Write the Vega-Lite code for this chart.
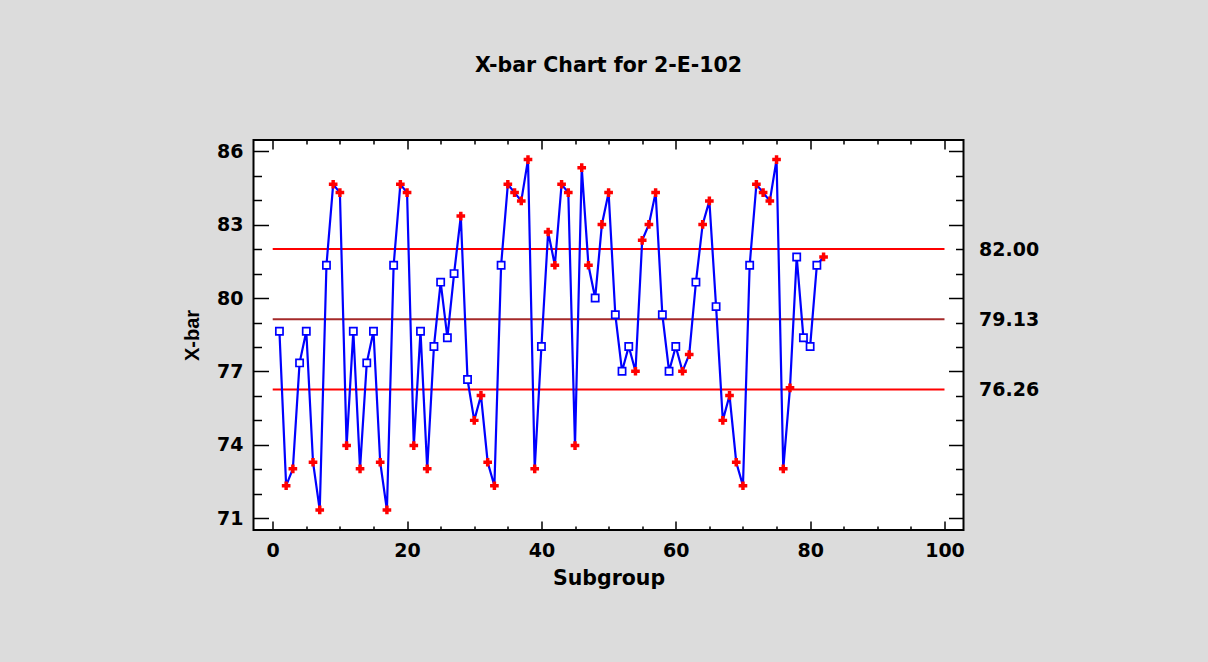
{
  "$schema": "https://vega.github.io/schema/vega-lite/v6.json",
  "width": 710,
  "height": 390,
  "autosize": {"type": "none"},
  "padding": {"left": 253.5, "top": 140, "right": 244.5, "bottom": 132},
  "background": "#dcdcdc",
  "title": {
    "text": "X-bar Chart for 2-E-102",
    "font": "DejaVu Sans",
    "fontSize": 20.5,
    "fontWeight": "bold",
    "color": "#000000",
    "anchor": "middle",
    "baseline": "alphabetic",
    "offset": 47
  },
  "config": {
    "view": {"fill": "white", "stroke": "black", "strokeWidth": 2},
    "axis": {
      "domain": false,
      "grid": false,
      "tickColor": "black",
      "tickWidth": 1.5,
      "labelFont": "DejaVu Sans",
      "labelFontSize": 19,
      "labelFontWeight": "bold",
      "labelColor": "black",
      "labelOverlap": false,
      "labelFlush": false,
      "titleColor": "black",
      "titleFontWeight": "bold"
    }
  },
  "datasets": {
    "pts": [
      {"subgroup": 1, "xbar": 78.64, "flag": "in"},
      {"subgroup": 2, "xbar": 72.33, "flag": "out"},
      {"subgroup": 3, "xbar": 73.02, "flag": "out"},
      {"subgroup": 4, "xbar": 77.35, "flag": "in"},
      {"subgroup": 5, "xbar": 78.64, "flag": "in"},
      {"subgroup": 6, "xbar": 73.29, "flag": "out"},
      {"subgroup": 7, "xbar": 71.34, "flag": "out"},
      {"subgroup": 8, "xbar": 81.34, "flag": "in"},
      {"subgroup": 9, "xbar": 84.65, "flag": "out"},
      {"subgroup": 10, "xbar": 84.31, "flag": "out"},
      {"subgroup": 11, "xbar": 73.97, "flag": "out"},
      {"subgroup": 12, "xbar": 78.64, "flag": "in"},
      {"subgroup": 13, "xbar": 73.02, "flag": "out"},
      {"subgroup": 14, "xbar": 77.35, "flag": "in"},
      {"subgroup": 15, "xbar": 78.64, "flag": "in"},
      {"subgroup": 16, "xbar": 73.29, "flag": "out"},
      {"subgroup": 17, "xbar": 71.34, "flag": "out"},
      {"subgroup": 18, "xbar": 81.34, "flag": "in"},
      {"subgroup": 19, "xbar": 84.65, "flag": "out"},
      {"subgroup": 20, "xbar": 84.31, "flag": "out"},
      {"subgroup": 21, "xbar": 73.97, "flag": "out"},
      {"subgroup": 22, "xbar": 78.64, "flag": "in"},
      {"subgroup": 23, "xbar": 73.02, "flag": "out"},
      {"subgroup": 24, "xbar": 78.02, "flag": "in"},
      {"subgroup": 25, "xbar": 80.65, "flag": "in"},
      {"subgroup": 26, "xbar": 78.38, "flag": "in"},
      {"subgroup": 27, "xbar": 81.0, "flag": "in"},
      {"subgroup": 28, "xbar": 83.35, "flag": "out"},
      {"subgroup": 29, "xbar": 76.67, "flag": "in"},
      {"subgroup": 30, "xbar": 75.0, "flag": "out"},
      {"subgroup": 31, "xbar": 76.02, "flag": "out"},
      {"subgroup": 32, "xbar": 73.29, "flag": "out"},
      {"subgroup": 33, "xbar": 72.33, "flag": "out"},
      {"subgroup": 34, "xbar": 81.34, "flag": "in"},
      {"subgroup": 35, "xbar": 84.65, "flag": "out"},
      {"subgroup": 36, "xbar": 84.31, "flag": "out"},
      {"subgroup": 37, "xbar": 83.97, "flag": "out"},
      {"subgroup": 38, "xbar": 85.66, "flag": "out"},
      {"subgroup": 39, "xbar": 73.02, "flag": "out"},
      {"subgroup": 40, "xbar": 78.02, "flag": "in"},
      {"subgroup": 41, "xbar": 82.7, "flag": "out"},
      {"subgroup": 42, "xbar": 81.34, "flag": "out"},
      {"subgroup": 43, "xbar": 84.65, "flag": "out"},
      {"subgroup": 44, "xbar": 84.31, "flag": "out"},
      {"subgroup": 45, "xbar": 73.97, "flag": "out"},
      {"subgroup": 46, "xbar": 85.33, "flag": "out"},
      {"subgroup": 47, "xbar": 81.34, "flag": "out"},
      {"subgroup": 48, "xbar": 80.0, "flag": "in"},
      {"subgroup": 49, "xbar": 83.01, "flag": "out"},
      {"subgroup": 50, "xbar": 84.31, "flag": "out"},
      {"subgroup": 51, "xbar": 79.32, "flag": "in"},
      {"subgroup": 52, "xbar": 77.01, "flag": "in"},
      {"subgroup": 53, "xbar": 78.02, "flag": "in"},
      {"subgroup": 54, "xbar": 77.01, "flag": "out"},
      {"subgroup": 55, "xbar": 82.36, "flag": "out"},
      {"subgroup": 56, "xbar": 83.01, "flag": "out"},
      {"subgroup": 57, "xbar": 84.31, "flag": "out"},
      {"subgroup": 58, "xbar": 79.32, "flag": "in"},
      {"subgroup": 59, "xbar": 77.01, "flag": "in"},
      {"subgroup": 60, "xbar": 78.02, "flag": "in"},
      {"subgroup": 61, "xbar": 77.01, "flag": "out"},
      {"subgroup": 62, "xbar": 77.69, "flag": "out"},
      {"subgroup": 63, "xbar": 80.65, "flag": "in"},
      {"subgroup": 64, "xbar": 83.01, "flag": "out"},
      {"subgroup": 65, "xbar": 83.97, "flag": "out"},
      {"subgroup": 66, "xbar": 79.65, "flag": "in"},
      {"subgroup": 67, "xbar": 75.0, "flag": "out"},
      {"subgroup": 68, "xbar": 76.02, "flag": "out"},
      {"subgroup": 69, "xbar": 73.29, "flag": "out"},
      {"subgroup": 70, "xbar": 72.33, "flag": "out"},
      {"subgroup": 71, "xbar": 81.34, "flag": "in"},
      {"subgroup": 72, "xbar": 84.65, "flag": "out"},
      {"subgroup": 73, "xbar": 84.31, "flag": "out"},
      {"subgroup": 74, "xbar": 83.97, "flag": "out"},
      {"subgroup": 75, "xbar": 85.66, "flag": "out"},
      {"subgroup": 76, "xbar": 73.02, "flag": "out"},
      {"subgroup": 77, "xbar": 76.33, "flag": "out"},
      {"subgroup": 78, "xbar": 81.68, "flag": "in"},
      {"subgroup": 79, "xbar": 78.38, "flag": "in"},
      {"subgroup": 80, "xbar": 78.02, "flag": "in"},
      {"subgroup": 81, "xbar": 81.34, "flag": "in"},
      {"subgroup": 82, "xbar": 81.68, "flag": "out"}
    ],
    "limits": [
      {"line": "UCL", "value": 82.0},
      {"line": "CL", "value": 79.13},
      {"line": "LCL", "value": 76.26}
    ]
  },
  "resolve": {"axis": {"x": "independent", "y": "independent"}},
  "layer": [
    {
      "data": {"name": "limits"},
      "mark": {"type": "rule", "strokeWidth": 2},
      "encoding": {
        "x": {"datum": 0, "type": "quantitative", "scale": {"domain": [-2.86, 102.83], "nice": false, "zero": false}, "axis": null},
        "x2": {"datum": 100},
        "y": {"field": "value", "type": "quantitative", "scale": {"domain": [70.52, 86.46], "nice": false, "zero": false}, "axis": null},
        "color": {"field": "line", "type": "nominal", "scale": {"domain": ["UCL", "CL", "LCL"], "range": ["#ff0000", "#a52a2a", "#ff0000"]}, "legend": null}
      }
    },
    {
      "data": {"name": "pts"},
      "mark": {"type": "line", "color": "#0000ff", "strokeWidth": 2.2},
      "encoding": {
        "x": {
          "field": "subgroup", "type": "quantitative",
          "scale": {"domain": [-2.86, 102.83], "nice": false, "zero": false},
          "axis": {
            "orient": "bottom",
            "values": [0, 5, 10, 15, 20, 25, 30, 35, 40, 45, 50, 55, 60, 65, 70, 75, 80, 85, 90, 95, 100],
            "tickSize": {"condition": {"test": "datum.value % 20 === 0", "value": -9}, "value": -4},
            "labelExpr": "datum.value % 20 === 0 ? datum.label : ''",
            "labelPadding": 20,
            "title": "Subgroup",
            "titleFont": "DejaVu Sans",
            "titleFontSize": 20.5,
            "titlePadding": 3
          }
        },
        "y": {
          "field": "xbar", "type": "quantitative",
          "scale": {"domain": [70.52, 86.46], "nice": false, "zero": false},
          "axis": {
            "orient": "left",
            "values": [71, 72, 73, 74, 75, 76, 77, 78, 79, 80, 81, 82, 83, 84, 85, 86],
            "tickSize": {"condition": {"test": "(datum.value - 71) % 3 === 0", "value": -15}, "value": -8},
            "labelExpr": "(datum.value - 71) % 3 === 0 ? datum.label : ''",
            "labelPadding": 25.5,
            "title": "X-bar",
            "titleFont": "Liberation Sans",
            "titleFontSize": 20,
            "titlePadding": 14
          }
        }
      }
    },
    {
      "data": {"name": "pts"},
      "transform": [{"filter": "datum.flag === 'in'"}],
      "mark": {"type": "point", "shape": "square", "filled": true, "fill": "white", "stroke": "#0000ff", "strokeWidth": 1.7, "size": 52, "opacity": 1},
      "encoding": {
        "x": {
          "field": "subgroup", "type": "quantitative",
          "scale": {"domain": [-2.86, 102.83], "nice": false, "zero": false},
          "axis": {
            "orient": "top",
            "values": [0, 5, 10, 15, 20, 25, 30, 35, 40, 45, 50, 55, 60, 65, 70, 75, 80, 85, 90, 95, 100],
            "tickSize": {"condition": {"test": "datum.value % 20 === 0", "value": -9}, "value": -4},
            "labels": false,
            "title": null
          }
        },
        "y": {
          "field": "xbar", "type": "quantitative",
          "scale": {"domain": [70.52, 86.46], "nice": false, "zero": false},
          "axis": {
            "orient": "right",
            "values": [71, 72, 73, 74, 75, 76, 76.26, 77, 78, 79, 79.13, 80, 81, 82, 83, 84, 85, 86],
            "format": ".2f",
            "tickSize": {"condition": {"test": "(datum.value - 71) % 3 === 0", "value": -15}, "value": -8},
            "tickOpacity": {"condition": {"test": "datum.value % 1 !== 0", "value": 0}, "value": 1},
            "labelExpr": "(datum.value === 82 || datum.value === 79.13 || datum.value === 76.26) ? datum.label : ''",
            "labelPadding": 23,
            "title": null
          }
        }
      }
    },
    {
      "data": {"name": "pts"},
      "transform": [{"filter": "datum.flag === 'out'"}],
      "mark": {"type": "point", "shape": "cross", "filled": true, "color": "#ff0000", "size": 75, "opacity": 1},
      "encoding": {
        "x": {"field": "subgroup", "type": "quantitative", "scale": {"domain": [-2.86, 102.83], "nice": false, "zero": false}, "axis": null},
        "y": {"field": "xbar", "type": "quantitative", "scale": {"domain": [70.52, 86.46], "nice": false, "zero": false}, "axis": null}
      }
    }
  ]
}
